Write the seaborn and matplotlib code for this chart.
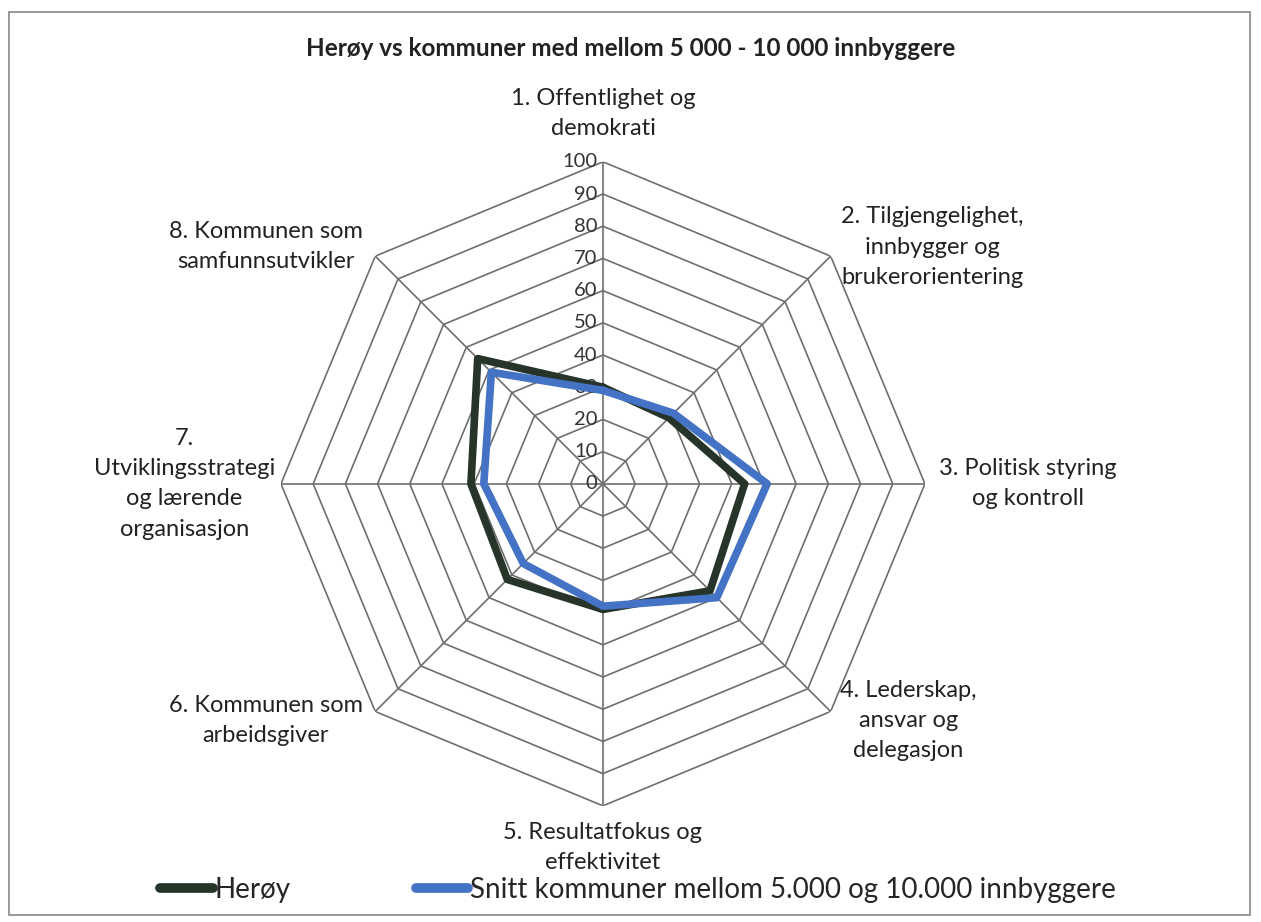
import numpy as np
import pandas as pd
import matplotlib
matplotlib.use("Agg")
import matplotlib.pyplot as plt
import seaborn as sns
from matplotlib.lines import Line2D
from matplotlib.patches import Rectangle

# data
categories = [
    "1. Offentlighet og\ndemokrati",
    "2. Tilgjengelighet,\ninnbygger og\nbrukerorientering",
    "3. Politisk styring\nog kontroll",
    "4. Lederskap,\nansvar og\ndelegasjon",
    "5. Resultatfokus og\neffektivitet",
    "6. Kommunen som\narbeidsgiver",
    "7.\nUtviklingsstrategi\nog lærende\norganisasjon",
    "8. Kommunen som\nsamfunnsutvikler",
]
heroy = [30, 29, 44, 47, 39, 42, 41, 55]
snitt = [29, 31, 51, 50, 38, 35, 37, 49]
series_names = ["Herøy", "Snitt kommuner mellom 5.000 og 10.000 innbyggere"]
r_ticks = [0, 10, 20, 30, 40, 50, 60, 70, 80, 90, 100]

sns.set_style("white")
plt.rcParams["font.family"] = ["Lato", "DejaVu Sans"]

colors = ["#26342a", "#4472c4"]

n = len(categories)
theta = np.arange(n) * 2 * np.pi / n
theta_closed = np.append(theta, theta[0])

rows = []
for name, vals in zip(series_names, [heroy, snitt]):
    for i, (t, v) in enumerate(zip(theta_closed, vals + vals[:1])):
        rows.append({"serie": name, "theta": t, "verdi": v, "ordre": i})
df = pd.DataFrame(rows)

fig = plt.figure(figsize=(12.61, 9.22), dpi=100)
ax = fig.add_axes([0.2228, 0.126, 0.5107, 0.6985], projection="polar")
ax.set_theta_offset(np.pi / 2)
ax.set_theta_direction(-1)
ax.set_ylim(0, 100)
ax.grid(False)
ax.spines["polar"].set_visible(False)
ax.set_xticks([])
ax.set_yticks([])
ax.set_facecolor("none")

# octagonal grid
for r in r_ticks[1:]:
    ax.plot(theta_closed, [r] * (n + 1), color="#6e6e6e", lw=1.2, zorder=1)
for t in theta:
    ax.plot([t, t], [0, 100], color="#6e6e6e", lw=1.2, zorder=1)

for r in r_ticks:
    ax.annotate(str(r), xy=(0, r), xytext=(-4, 0), textcoords="offset points",
                ha="right", va="center", fontsize=14.5, color="#333333", zorder=2)

sns.lineplot(data=df, x="theta", y="verdi", hue="serie", palette=colors,
             sort=False, estimator=None, units="serie", ax=ax, lw=5.5,
             legend=False, zorder=3)
ax.set_xlabel("")
ax.set_ylabel("")
ax.set_ylim(0, 100)

# category labels (angle in degrees clockwise from top, radius in data units)
label_pos = [(0, 115), (54.3, 126), (90, 132), (127.8, 120),
             (180, 113), (234.9, 128), (270, 130), (305.2, 128)]
for lab, (ang, rr) in zip(categories, label_pos):
    ax.text(np.deg2rad(ang), rr, lab, ha="center", va="center",
            multialignment="center", fontsize=17, color="#222222",
            linespacing=1.55)

fig.text(0.5, 1 - 48 / 922, "Herøy vs kommuner med mellom 5 000 - 10 000 innbyggere",
         ha="center", va="center", fontsize=17.5, fontweight="bold", color="#222222")

handles = [Line2D([0], [0], color=c, lw=7) for c in colors]
fig.legend(handles, series_names, loc="center", bbox_to_anchor=(0.506, 1 - 890 / 922),
           ncol=2, frameon=False, fontsize=20, handlelength=1.9, handletextpad=0.05,
           columnspacing=4.5)

fig.patches.append(Rectangle((9 / 1261, 1 - 915 / 922), 1241 / 1261, 903 / 922,
                             transform=fig.transFigure, fill=False,
                             edgecolor="#888888", lw=1.2))

fig.savefig("out.png", dpi=100)
